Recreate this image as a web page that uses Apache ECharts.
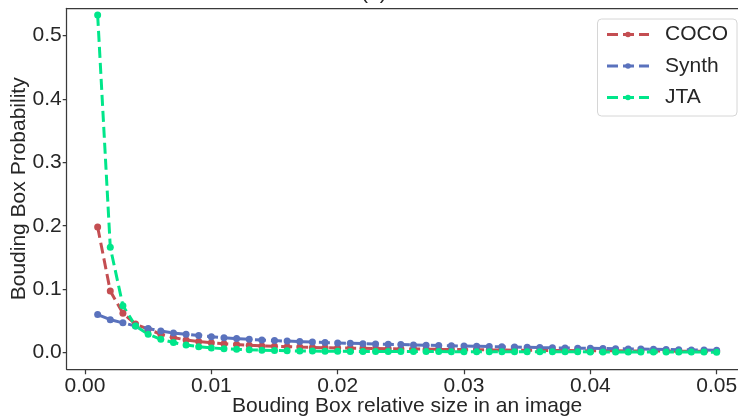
<!DOCTYPE html>
<html>
<head>
<meta charset="utf-8">
<script src="https://cdn.jsdelivr.net/npm/echarts@6/dist/echarts.min.js"></script>
<style>
  html, body { margin: 0; padding: 0; background: #fff; }
  #drawLine { width: 738px; height: 418px; }
</style>
</head>
<body>
<div id="drawLine"></div>
<script>
// relative size of the box (x), one point every 0.001
var sizes = [0.001, 0.002, 0.003, 0.004, 0.005, 0.006, 0.007, 0.008, 0.009, 0.010,
             0.011, 0.012, 0.013, 0.014, 0.015, 0.016, 0.017, 0.018, 0.019, 0.020,
             0.021, 0.022, 0.023, 0.024, 0.025, 0.026, 0.027, 0.028, 0.029, 0.030,
             0.031, 0.032, 0.033, 0.034, 0.035, 0.036, 0.037, 0.038, 0.039, 0.040,
             0.041, 0.042, 0.043, 0.044, 0.045, 0.046, 0.047, 0.048, 0.049, 0.050];

var coco = [0.198, 0.097, 0.062, 0.045, 0.037, 0.029, 0.024, 0.020, 0.0175, 0.0157,
            0.0142, 0.0128, 0.0117, 0.0107, 0.0100, 0.0094, 0.0088, 0.0083, 0.0079, 0.0075,
            0.0071, 0.0068, 0.0065, 0.0062, 0.0059, 0.0057, 0.0055, 0.0052, 0.0050, 0.0048,
            0.0046, 0.0044, 0.0042, 0.0040, 0.0038, 0.0036, 0.0035, 0.0033, 0.0032, 0.0031,
            0.0030, 0.0029, 0.0028, 0.0027, 0.0026, 0.0025, 0.0024, 0.0023, 0.0022, 0.0021];

var synth = [0.060, 0.052, 0.047, 0.042, 0.038, 0.034, 0.031, 0.029, 0.027, 0.0252,
             0.0236, 0.0222, 0.0210, 0.0199, 0.0190, 0.0182, 0.0174, 0.0167, 0.0160, 0.0154,
             0.0148, 0.0142, 0.0137, 0.0132, 0.0127, 0.0122, 0.0117, 0.0112, 0.0108, 0.0104,
             0.0100, 0.0096, 0.0092, 0.0088, 0.0084, 0.0080, 0.0077, 0.0074, 0.0071, 0.0068,
             0.0065, 0.0062, 0.0059, 0.0056, 0.0053, 0.0050, 0.0047, 0.0044, 0.0041, 0.0038];

var jta = [0.532, 0.166, 0.074, 0.042, 0.029, 0.021, 0.016, 0.012, 0.0094, 0.0075,
           0.0063, 0.0053, 0.0045, 0.0039, 0.0034, 0.0030, 0.0027, 0.0025, 0.0023, 0.0021,
           0.0020, 0.0020, 0.0019, 0.0019, 0.0018, 0.0018, 0.0017, 0.0017, 0.0016, 0.0016,
           0.0015, 0.0015, 0.0015, 0.0014, 0.0014, 0.0014, 0.0013, 0.0013, 0.0013, 0.0012,
           0.0012, 0.0012, 0.0011, 0.0011, 0.0011, 0.0010, 0.0010, 0.0009, 0.0009, 0.0008];

var xTicks = [0, 0.01, 0.02, 0.03, 0.04, 0.05];
var yTicks = [0, 0.1, 0.2, 0.3, 0.4, 0.5];

var seriesNames = ['COCO', 'Synth', 'JTA'];
var seriesColors = ['#c44e52', '#5a72bd', '#00e68a'];

var FONT = '"Liberation Sans", Arial, sans-serif';
var INK = '#262626';
var SPINE = '#3a3a3a';

function pairs(ys) {
    var out = [];
    for (var i = 0; i < sizes.length; i++) {
        out.push([sizes[i], ys[i]]);
    }
    return out;
}

function makeSeries(name, ys, color) {
    return {
        name: name,
        type: 'line',
        data: pairs(ys),
        symbol: 'circle',
        symbolSize: 7,
        showSymbol: true,
        color: color,
        itemStyle: { color: color },
        lineStyle: { color: color, width: 3, type: [11, 5] },
        z: 3
    };
}

var myChart = echarts.init(document.getElementById('drawLine'), null, { renderer: 'canvas' });

var option = {
    animation: false,
    backgroundColor: '#fff',
    textStyle: { fontFamily: FONT },
    grid: { left: 66.7, top: 8.3, bottom: 48.7, right: -9.6, containLabel: false, outerBoundsMode: 'none' },
    graphic: [{
        type: 'text',
        left: 361,
        top: -17,
        style: { text: '(a)', font: '21px ' + FONT, fill: INK }
    }],
    legend: {
        orient: 'vertical',
        right: 1,
        top: 19,
        data: seriesNames,
        itemWidth: 42,
        itemHeight: 7,
        itemGap: 10.5,
        padding: [5, 9, 8, 8],
        borderColor: '#d6d6d6',
        borderWidth: 1,
        borderRadius: 4,
        backgroundColor: '#fff',
        lineStyle: { width: 3 },
        textStyle: { fontFamily: FONT, fontSize: 21, color: INK, lineHeight: 20, padding: [0, 0, 0, 11] }
    },
    xAxis: [{
        type: 'value',
        min: -0.00145,
        max: 0.05245,
        name: 'Bouding Box relative size in an image',
        nameLocation: 'middle',
        nameGap: 26,
        nameMoveOverlap: false,
        nameTextStyle: { fontFamily: FONT, fontSize: 21, color: INK },
        splitLine: { show: false },
        axisLine: { show: true, onZero: false, lineStyle: { color: SPINE, width: 1.25 } },
        axisTick: { show: true, length: 5, customValues: xTicks, lineStyle: { color: SPINE, width: 1.25 } },
        axisLabel: {
            customValues: xTicks,
            margin: 6,
            fontFamily: FONT,
            fontSize: 21,
            color: INK,
            formatter: function (v) { return v.toFixed(2); }
        }
    }, {
        type: 'value',
        position: 'top',
        min: -0.00145,
        max: 0.05245,
        splitLine: { show: false },
        axisLine: { show: true, onZero: false, lineStyle: { color: SPINE, width: 1.25 } },
        axisTick: { show: false },
        axisLabel: { show: false }
    }],
    yAxis: {
        type: 'value',
        min: -0.0262,
        max: 0.5425,
        name: 'Bouding Box Probability',
        nameLocation: 'middle',
        nameGap: 37,
        nameMoveOverlap: false,
        nameTextStyle: { fontFamily: FONT, fontSize: 21, color: INK },
        splitLine: { show: false },
        axisLine: { show: true, onZero: false, lineStyle: { color: SPINE, width: 1.25 } },
        axisTick: { show: true, length: 4, customValues: yTicks, lineStyle: { color: SPINE, width: 1.25 } },
        axisLabel: {
            customValues: yTicks,
            margin: 5,
            fontFamily: FONT,
            fontSize: 21,
            color: INK,
            formatter: function (v) { return v.toFixed(1); }
        }
    },
    series: [
        makeSeries(seriesNames[0], coco, seriesColors[0]),
        makeSeries(seriesNames[1], synth, seriesColors[1]),
        makeSeries(seriesNames[2], jta, seriesColors[2])
    ]
};

myChart.setOption(option);
</script>
</body>
</html>
